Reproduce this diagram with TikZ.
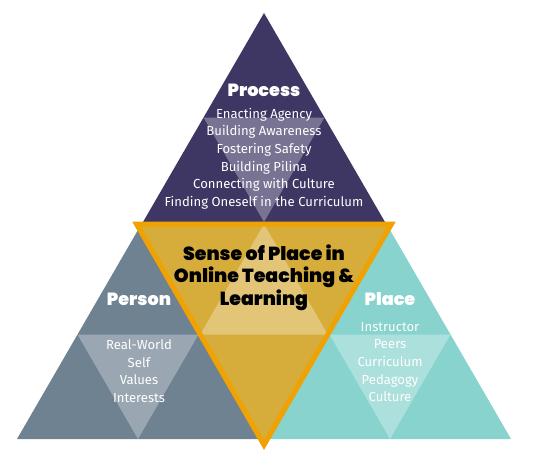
\documentclass[tikz,border=0pt]{standalone}
\usepackage{fontspec}
\setmainfont{Fira Sans}
\newfontfamily\headfont{Poppins Black}
\usetikzlibrary{calc}

\definecolor{processcol}{HTML}{3F3763}
\definecolor{personcol}{HTML}{6F8292}
\definecolor{placecol}{HTML}{88D3CE}
\definecolor{goldcol}{HTML}{D6AC3B}
\definecolor{rimcol}{HTML}{F0A202}

\begin{document}
\begin{tikzpicture}[x=1pt,y=-1pt,
  veil/.style={fill=white,fill opacity=0.3},
  head/.style={inner sep=0pt,text=white,font=\headfont\fontsize{17.6}{20}\selectfont},
  items/.style={inner sep=0pt,text=white,align=center,font=\fontsize{13.1}{17.6}\selectfont},
  core/.style={inner sep=0pt,text=black,align=center,font=\headfont\fontsize{18.9}{22.5}\selectfont}]
\useasboundingbox (0,0) rectangle (535,460);
% the three outer triangles, each with a lighter inverted middle
\foreach \n/\cx/\cy/\col in {process/264/13/processcol,person/138/230/personcol,place/390/230/placecol}{
  \coordinate (\n-top) at (\cx,\cy);
  \coordinate (\n-left) at (\cx-121,\cy+209);
  \coordinate (\n-right) at (\cx+121,\cy+209);
  \fill[\col] (\n-top) -- (\n-left) -- (\n-right) -- cycle;
  \fill[veil] ($(\n-top)!0.5!(\n-left)$) -- ($(\n-top)!0.5!(\n-right)$) -- ($(\n-left)!0.5!(\n-right)$) -- cycle;
}
% centre triangle
\coordinate (core-left) at (136.5,224);
\coordinate (core-right) at (391.5,224);
\coordinate (core-bottom) at (264,445);
\fill[goldcol] (core-left) -- (core-right) -- (core-bottom) -- cycle;
\fill[veil] ($(core-left)!0.5!(core-right)$) -- ($(core-left)!0.5!(core-bottom)$) -- ($(core-right)!0.5!(core-bottom)$) -- cycle;
\draw[rimcol,line width=5pt] (core-left) -- (core-right) -- (core-bottom) -- cycle;
% labels
\node[head] (process) at (264,90) {Process};
\node[items] (process-list) at (264,158.5) {Enacting Agency\\Building Awareness\\Fostering Safety\\Building Pilina\\Connecting with Culture\\Finding Oneself in the Curriculum};
\node[head] (person) at (139,299) {Person};
\node[items] (person-list) at (139,371) {Real-World\\Self\\Values\\Interests};
\node[head] (place) at (390,299) {Place};
\node[items] (place-list) at (390,362) {Instructor\\Peers\\Curriculum\\Pedagogy\\Culture};
\node[core] (sense) at (264,277.5) {Sense of Place in\\Online Teaching \&\\Learning};
\end{tikzpicture}
\end{document}
